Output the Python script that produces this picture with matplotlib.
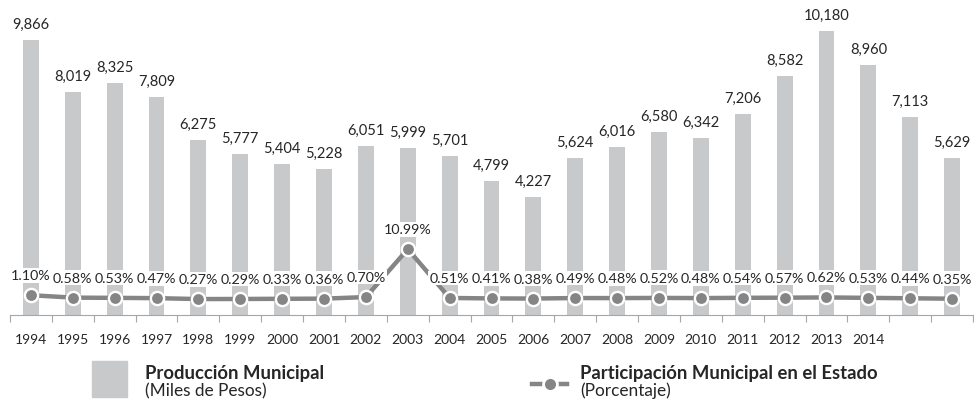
import matplotlib
matplotlib.use("Agg")
import matplotlib.pyplot as plt
from matplotlib.patches import Rectangle
from matplotlib.lines import Line2D

plt.rcParams['font.family'] = ['Lato', 'DejaVu Sans']

years = ['1994', '1995', '1996', '1997', '1998', '1999', '2000', '2001', '2002',
         '2003', '2004', '2005', '2006', '2007', '2008', '2009', '2010', '2011',
         '2012', '2013', '2014', '', '']
produccion = [9866, 8019, 8325, 7809, 6275, 5777, 5404, 5228, 6051, 5999, 5701,
              4799, 4227, 5624, 6016, 6580, 6342, 7206, 8582, 10180, 8960, 7113, 5629]
participacion = [1.10, 0.58, 0.53, 0.47, 0.27, 0.29, 0.33, 0.36, 0.70, 10.99, 0.51,
                 0.41, 0.38, 0.49, 0.48, 0.52, 0.48, 0.54, 0.57, 0.62, 0.53, 0.44, 0.35]

W, H = 974, 406
BAR = '#c8c9cb'
LINE = '#858585'
TXT = '#262626'
AXC = '#a6a6a6'


def fx(x):
    return x / W


def fy(y):
    return 1 - y / H


fig = plt.figure(figsize=(W / 100, H / 100), dpi=100)
ax = fig.add_axes([fx(10), fy(316), (973 - 10) / W, 316 / H])
n = len(produccion)
xs = list(range(n))

ax.bar(xs, produccion, width=0.38, color=BAR, zorder=1)
ax.set_xlim(-0.5, n - 0.5)
ax.set_ylim(0, 11338)
for s in ['top', 'right', 'left']:
    ax.spines[s].set_visible(False)
ax.spines['bottom'].set_color(AXC)
ax.spines['bottom'].set_linewidth(0.8)
ax.set_yticks([])
ax.set_xticks(xs)
ax.set_xticklabels(years, fontsize=10, color=TXT)
ax.tick_params(axis='x', which='major', length=0, pad=13)
ax.set_xticks([i - 0.5 for i in range(n + 1)], minor=True)
ax.tick_params(axis='x', which='minor', length=5, color=AXC, width=0.8)

for x, v in zip(xs, produccion):
    ax.annotate(f'{v:,}', (x, v), xytext=(0, 16), textcoords='offset pixels',
                ha='center', va='center', fontsize=10.5, color=TXT, clip_on=False)

ax2 = ax.twinx()
ax2.set_ylim(-3.15, 64.7)
ax2.axis('off')
ax2.plot(xs, participacion, color=LINE, lw=3.2, marker='o', markersize=9.5,
         markerfacecolor=LINE, markeredgecolor='white', markeredgewidth=1.7,
         zorder=3)
for x, v in zip(xs, participacion):
    ax2.annotate(f'{v:.2f}%', (x, v), xytext=(0, 20), textcoords='offset pixels',
                 ha='center', va='center', fontsize=10.3, color=TXT,
                 bbox=dict(boxstyle='square,pad=0.1', fc='white', ec='none'),
                 zorder=4)

# legend
fig.patches.append(Rectangle((fx(92), fy(398)), 35 / W, 36 / H,
                             transform=fig.transFigure, color=BAR))
fig.text(fx(145), fy(374), 'Producción Municipal', fontsize=13.3,
         fontweight='bold', color=TXT, ha='left', va='center')
fig.text(fx(145), fy(391), '(Miles de Pesos)', fontsize=12.4,
         color=TXT, ha='left', va='center')
fig.lines.append(Line2D([fx(532), fx(567)], [fy(385), fy(385)],
                        transform=fig.transFigure, color=LINE, lw=3.2))
fig.lines.append(Line2D([fx(549.5)], [fy(385)], transform=fig.transFigure,
                        marker='o', markersize=10, markerfacecolor=LINE,
                        markeredgecolor='white', markeredgewidth=2, lw=0))
fig.text(fx(580), fy(374), 'Participación Municipal en el Estado', fontsize=13.3,
         fontweight='bold', color=TXT, ha='left', va='center')
fig.text(fx(580), fy(391), '(Porcentaje)', fontsize=12.4,
         color=TXT, ha='left', va='center')

fig.savefig('out.png', dpi=100, facecolor='white')
